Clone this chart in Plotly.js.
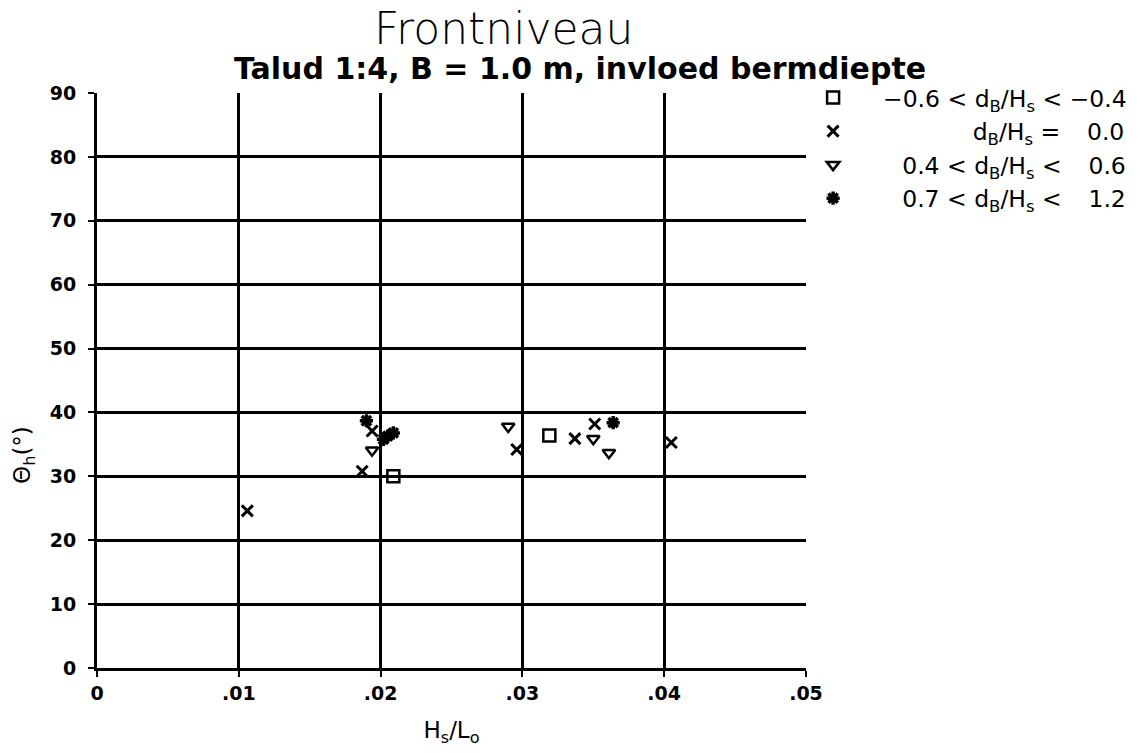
<!DOCTYPE html>
<html><head><meta charset="utf-8">
<script src="https://cdn.plot.ly/plotly-3.0.1.min.js"></script>
<style>html,body{margin:0;padding:0;background:#fff;}</style>
</head><body>
<div id="chart" style="width:1141px;height:753px;"></div>
<script>
// Series: Hs/Lo (x) and theta_h (y)
const sqX = [0.0209, 0.0319];
const sqY = [30.0, 36.4];
const crossX = [0.0106, 0.0187, 0.0194, 0.0296, 0.0337, 0.0351, 0.0405];
const crossY = [24.6, 30.8, 37.1, 34.2, 35.9, 38.2, 35.3];
const triX = [0.0194, 0.0290, 0.0350, 0.0361];
const triY = [34.1, 37.8, 35.9, 33.7];
const astX = [0.0190, 0.0202, 0.0205, 0.0209, 0.0364];
const astY = [38.7, 35.8, 36.3, 36.8, 38.4];
const NB = "\u00a0", EN = "\u2002", MINUS_PAD = "\u2002\u00a0";
const DBHS = "d<sub>B</sub>/H<sub>s</sub>";
const LEAD = NB + NB + NB + NB;
const seriesNames = [
  LEAD + "\u22120.6 < " + DBHS + " < \u22120.4",
  LEAD + EN + EN + EN + EN + EN + EN + EN + NB + DBHS + NB + "=" + NB + MINUS_PAD + "0.0",
  LEAD + MINUS_PAD + "0.4 < " + DBHS + NB + "<" + NB + MINUS_PAD + "0.6",
  LEAD + MINUS_PAD + "0.7 < " + DBHS + NB + "<" + NB + MINUS_PAD + "1.2"
];
const xTickVals = [0, 0.01, 0.02, 0.03, 0.04, 0.05];
const xTickText = ["0", ".01", ".02", ".03", ".04", ".05"];
const yTickVals = [0, 10, 20, 30, 40, 50, 60, 70, 80, 90];

const mk = (x, y, name, symbol, size, lw) => ({
  x, y, name, type: "scatter", mode: "markers",
  marker: {symbol, size, color: "#000", line: {color: "#000", width: lw}},
  hoverinfo: "x+y"
});
const data = [
  mk(sqX, sqY, seriesNames[0], "square-open", 12, 2.5),
  mk(crossX, crossY, seriesNames[1], "x-thin-open", 11, 3),
  mk(triX, triY, seriesNames[2], "triangle-down-open", 11, 2.5),
  mk(astX, astY, seriesNames[3], "asterisk-open", 11, 3.5)
];
const tickFont = {family: "DejaVu Sans, sans-serif", size: 19, color: "#000", weight: 700};
const layout = {
  width: 1141, height: 753,
  margin: {l: 97, r: 335, t: 93, b: 85, autoexpand: false},
  paper_bgcolor: "#fff", plot_bgcolor: "#fff",
  showlegend: true,
  legend: {x: 1.01, y: 1.03, xanchor: "left", yanchor: "top",
    font: {family: "DejaVu Sans, sans-serif", size: 23.5, color: "#000"},
    bgcolor: "rgba(0,0,0,0)", tracegroupgap: 0},
  xaxis: {range: [0, 0.05], tickmode: "array", tickvals: xTickVals, ticktext: xTickText,
    showgrid: true, gridcolor: "#000", gridwidth: 2.5, zeroline: false,
    showline: true, linecolor: "#000", linewidth: 3,
    ticks: "outside", ticklen: 6, tickwidth: 2, tickcolor: "#000",
    tickfont: tickFont,
    title: {text: "H<sub>s</sub>/L<sub>o</sub>", font: {family: "DejaVu Sans, sans-serif", size: 23, color: "#000", weight: 400}, standoff: 20}},
  yaxis: {range: [0, 90], tickmode: "array", tickvals: yTickVals,
    showgrid: true, gridcolor: "#000", gridwidth: 2.5, zeroline: false,
    showline: true, linecolor: "#000", linewidth: 3,
    ticks: "outside", ticklen: 6, tickwidth: 2, tickcolor: "#000",
    ticklabelstandoff: 8,
    tickfont: tickFont},
  annotations: [
    {text: "Frontniveau", xref: "paper", yref: "paper", x: 0.573, y: 1.113, xanchor: "center", yanchor: "middle",
     showarrow: false, font: {family: "DejaVu Sans, sans-serif", size: 44, color: "#000", weight: 200}},
    {text: "Talud 1:4, B = 1.0 m, invloed bermdiepte", xref: "paper", yref: "paper", x: 0.681, y: 1.042, xanchor: "center", yanchor: "middle",
     showarrow: false, font: {family: "DejaVu Sans, sans-serif", size: 30, color: "#000", weight: 700}},
    {text: "\u0398<sub>h</sub>(\u00b0)", xref: "paper", yref: "paper", x: -0.102, y: 0.37, xanchor: "center", yanchor: "middle",
     textangle: -90, showarrow: false, font: {family: "DejaVu Sans, sans-serif", size: 23, color: "#000", weight: 400}}
  ]
};
Plotly.newPlot("chart", data, layout, {displayModeBar: false});
</script>
</body></html>
